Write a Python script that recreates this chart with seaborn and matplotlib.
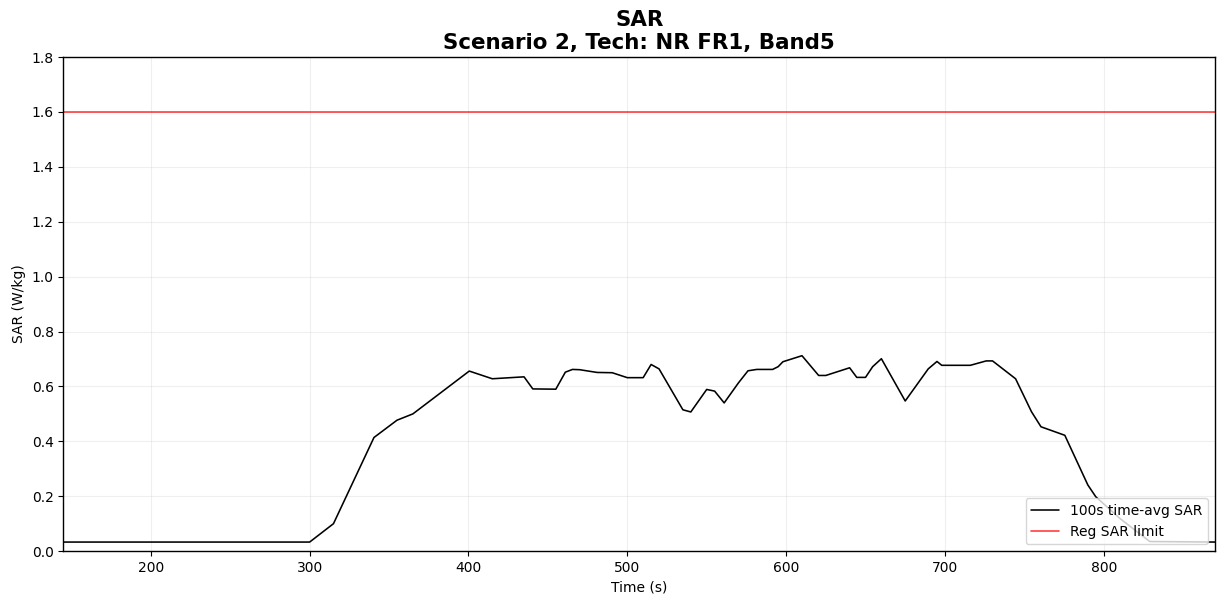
import matplotlib
matplotlib.use("Agg")
import matplotlib.pyplot as plt
import seaborn as sns
import numpy as np
import pandas as pd

# 100 s time-averaged SAR trace (time in s, SAR in W/kg)
time_s = [145, 300, 315, 340.5, 355, 365, 400.5, 415, 435, 440.5, 455, 461, 465.5,
          470, 481, 490.5, 500, 510, 515, 520, 535, 540, 550, 555, 561, 570, 576,
          581.5, 591.5, 595, 598, 610, 620.5, 625, 640, 644.5, 650, 654.5, 660, 675,
          689.5, 695, 698, 716, 726, 730, 744.5, 754.5, 760.5, 775.5, 790, 795, 810,
          820, 829, 870]
sar_avg = [0.033, 0.033, 0.100, 0.414, 0.477, 0.500, 0.656, 0.628, 0.635, 0.591, 0.590,
           0.652, 0.662, 0.661, 0.651, 0.650, 0.632, 0.632, 0.680, 0.664, 0.515, 0.507,
           0.589, 0.583, 0.540, 0.613, 0.657, 0.662, 0.662, 0.672, 0.690, 0.712, 0.640,
           0.640, 0.668, 0.633, 0.633, 0.672, 0.701, 0.547, 0.664, 0.691, 0.677, 0.677,
           0.693, 0.693, 0.628, 0.508, 0.453, 0.422, 0.241, 0.198, 0.120, 0.075, 0.035,
           0.033]
sar_limit = 1.6

sns.set_style("white", {"text.color": "black", "axes.labelcolor": "black",
                        "xtick.color": "black", "ytick.color": "black",
                        "axes.edgecolor": "black"})
plt.rcParams["font.family"] = ["DejaVu Sans"]

fig, ax = plt.subplots(figsize=(12.21, 6.01), dpi=100)
df = pd.DataFrame({"Time (s)": time_s, "SAR (W/kg)": sar_avg})
sns.lineplot(data=df, x="Time (s)", y="SAR (W/kg)", ax=ax, color="black",
             linewidth=1.15, label="100s time-avg SAR")
ax.axhline(sar_limit, color="red", alpha=0.75, linewidth=1.2, label="Reg SAR limit")

ax.set_xlim(145, 870)
ax.set_ylim(0, 1.8)
ax.set_yticks(np.arange(0, 1.81, 0.2))
ax.grid(True, alpha=0.3)
ax.tick_params(axis="both", direction="out", length=3.5, width=0.8, bottom=True, left=True,
               labelsize=10, colors="black")
for s in ax.spines.values():
    s.set_edgecolor("black")
    s.set_linewidth(1.0)
ax.set_xlabel("Time (s)", fontsize=10, color="black")
ax.set_ylabel("SAR (W/kg)", fontsize=10, color="black")
ax.set_title("SAR\nScenario 2, Tech: NR FR1, Band5", fontsize=15.4, fontweight="bold",
             color="black")
leg = ax.legend(loc="lower right", fontsize=10, framealpha=0.8, fancybox=True)
for t in leg.get_texts():
    t.set_color("black")

fig.subplots_adjust(left=0.052, right=0.995, top=0.905, bottom=0.083)
fig.savefig("out.png", dpi=100)
